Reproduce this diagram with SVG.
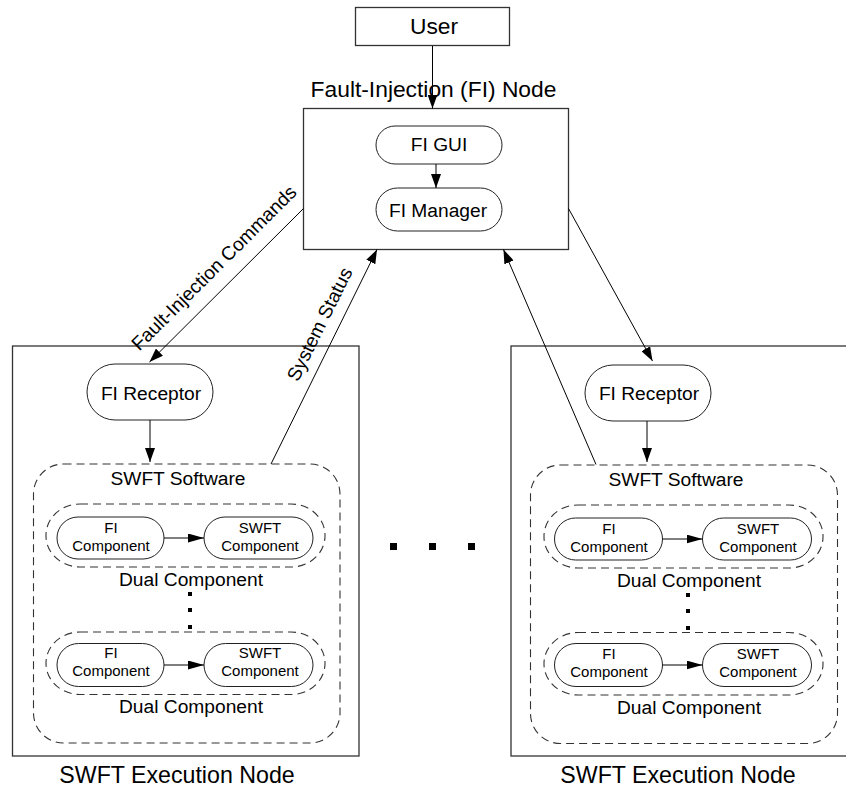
<svg xmlns="http://www.w3.org/2000/svg" width="846" height="789" viewBox="0 0 846 789">
<defs>
<style>
text{font-family:"Liberation Sans",Arial,Helvetica,sans-serif;fill:#000;text-anchor:middle}
.box{fill:#fff;stroke:#333;stroke-width:1.3}
.pill{fill:#fff;stroke:#222;stroke-width:1}
.dash{fill:none;stroke:#333;stroke-width:1.1;stroke-dasharray:8 5}
.conn{fill:none;stroke:#000;stroke-width:1}
.big{font-size:22.8px}
.exe{font-size:23.2px}
.mid{font-size:19.2px}
.sm{font-size:15px}
.dot{fill:#000}
</style>
<marker id="ah" markerUnits="userSpaceOnUse" markerWidth="14" markerHeight="10" refX="14" refY="5" orient="auto"><path d="M0,0 L14,5 L0,10 z" fill="#000"/></marker>
<marker id="ahs" markerUnits="userSpaceOnUse" markerWidth="16" markerHeight="9" refX="16" refY="4.5" orient="auto"><path d="M0,0 L16,4.5 L0,9 z" fill="#000"/></marker>
</defs>
<rect width="846" height="789" fill="#fff"/>

<g id="user">
<rect class="box" x="355.5" y="7.5" width="154" height="38"/>
<text class="big" x="434" y="34">User</text>
</g>

<g id="fi-node">
<text class="big" x="433.5" y="97">Fault-Injection (FI) Node</text>
<rect class="box" x="303.5" y="108.5" width="265" height="141"/>
</g>
<g id="fi-gui">
<rect class="pill" x="376" y="126" width="126" height="38" rx="19"/>
<text class="mid" x="439" y="151">FI GUI</text>
</g>
<g id="fi-manager">
<rect class="pill" x="376" y="188" width="126" height="43" rx="21.5"/>
<text class="mid" x="438" y="217">FI Manager</text>
</g>

<g id="exec-left">
<rect class="box" x="12.5" y="346" width="346.5" height="410"/>
<text class="exe" x="177" y="783">SWFT Execution Node</text>
</g>
<g id="receptor-left">
<rect class="pill" x="87" y="364" width="126" height="56" rx="28"/>
<text class="mid" x="151" y="399.5">FI Receptor</text>
</g>
<g id="software-left">
<rect class="dash" x="33.5" y="464" width="306.5" height="279" rx="30"/>
<text class="mid" x="178" y="485">SWFT Software</text>
</g>
<g id="dual-left-1">
<rect class="dash" x="46" y="504" width="279" height="63" rx="34" ry="31"/>
<text class="mid" x="191" y="586">Dual Component</text>
</g>
<g id="ficomp-left-1">
<rect class="pill" x="57" y="517" width="107" height="42" rx="21"/>
<text class="sm" x="111" y="533">FI</text>
<text class="sm" x="111" y="551">Component</text>
</g>
<g id="swftcomp-left-1">
<rect class="pill" x="204" y="517" width="109" height="42" rx="21"/>
<text class="sm" x="260" y="533">SWFT</text>
<text class="sm" x="260" y="551">Component</text>
</g>
<g id="vdots-left">
<rect class="dot" x="188" y="592" width="4" height="4"/>
<rect class="dot" x="188" y="608" width="4" height="4"/>
<rect class="dot" x="188" y="625" width="4" height="4"/>
</g>
<g id="dual-left-2">
<rect class="dash" x="46" y="632" width="279" height="62.5" rx="34" ry="31"/>
<text class="mid" x="191" y="713">Dual Component</text>
</g>
<g id="ficomp-left-2">
<rect class="pill" x="57" y="643.5" width="107" height="43" rx="21.5"/>
<text class="sm" x="111" y="658">FI</text>
<text class="sm" x="111" y="676">Component</text>
</g>
<g id="swftcomp-left-2">
<rect class="pill" x="204" y="643.5" width="109" height="43" rx="21.5"/>
<text class="sm" x="260" y="658">SWFT</text>
<text class="sm" x="260" y="676">Component</text>
</g>

<g id="hdots">
<rect class="dot" x="390" y="543" width="7" height="7"/>
<rect class="dot" x="429" y="543" width="7" height="7"/>
<rect class="dot" x="468" y="543" width="7" height="7"/>
</g>

<g id="exec-right">
<rect class="box" x="511" y="346" width="346" height="410"/>
<text class="exe" x="678" y="783">SWFT Execution Node</text>
</g>
<g id="receptor-right">
<rect class="pill" x="585" y="365" width="126" height="56" rx="28"/>
<text class="mid" x="649" y="400">FI Receptor</text>
</g>
<g id="software-right">
<rect class="dash" x="530.5" y="465" width="307" height="278.5" rx="30"/>
<text class="mid" x="676" y="486">SWFT Software</text>
</g>
<g id="dual-right-1">
<rect class="dash" x="544" y="505" width="279" height="63" rx="34" ry="31"/>
<text class="mid" x="689" y="587">Dual Component</text>
</g>
<g id="ficomp-right-1">
<rect class="pill" x="554.5" y="518" width="108" height="42" rx="21"/>
<text class="sm" x="609" y="534">FI</text>
<text class="sm" x="609" y="552">Component</text>
</g>
<g id="swftcomp-right-1">
<rect class="pill" x="702.5" y="518" width="109" height="42" rx="21"/>
<text class="sm" x="758" y="534">SWFT</text>
<text class="sm" x="758" y="552">Component</text>
</g>
<g id="vdots-right">
<rect class="dot" x="686" y="593" width="4" height="4"/>
<rect class="dot" x="686" y="609" width="4" height="4"/>
<rect class="dot" x="686" y="626" width="4" height="4"/>
</g>
<g id="dual-right-2">
<rect class="dash" x="544" y="632.5" width="279" height="62.5" rx="34" ry="31"/>
<text class="mid" x="689" y="713.5">Dual Component</text>
</g>
<g id="ficomp-right-2">
<rect class="pill" x="554.5" y="643.5" width="108" height="43" rx="21.5"/>
<text class="sm" x="609" y="658.5">FI</text>
<text class="sm" x="609" y="676.5">Component</text>
</g>
<g id="swftcomp-right-2">
<rect class="pill" x="702.5" y="643.5" width="109" height="43" rx="21.5"/>
<text class="sm" x="758" y="658.5">SWFT</text>
<text class="sm" x="758" y="676.5">Component</text>
</g>

<g id="connectors">
<line class="conn" x1="432.5" y1="46" x2="432.5" y2="108.5" marker-end="url(#ah)"/>
<line class="conn" x1="436" y1="164" x2="436" y2="188" marker-end="url(#ah)"/>
<line class="conn" x1="303.5" y1="208.5" x2="149.5" y2="362" marker-end="url(#ah)"/>
<text class="mid" transform="translate(218.5,272.5) rotate(-44.9)">Fault-Injection Commands</text>
<line class="conn" x1="271" y1="464" x2="377" y2="249.5" marker-end="url(#ah)"/>
<text class="mid" transform="translate(325.5,327) rotate(-63.6)">System Status</text>
<line class="conn" x1="568.5" y1="208.5" x2="652.5" y2="361" marker-end="url(#ah)"/>
<line class="conn" x1="596" y1="464.5" x2="503.5" y2="249.5" marker-end="url(#ah)"/>
<line class="conn" x1="150" y1="420" x2="150" y2="462" marker-end="url(#ah)"/>
<line class="conn" x1="647" y1="421" x2="647" y2="462" marker-end="url(#ah)"/>
<line class="conn" x1="164" y1="538" x2="204" y2="538" marker-end="url(#ahs)"/>
<line class="conn" x1="164" y1="665" x2="204" y2="665" marker-end="url(#ahs)"/>
<line class="conn" x1="662.5" y1="539" x2="702.5" y2="539" marker-end="url(#ahs)"/>
<line class="conn" x1="662.5" y1="665" x2="702.5" y2="665" marker-end="url(#ahs)"/>
</g>
</svg>
